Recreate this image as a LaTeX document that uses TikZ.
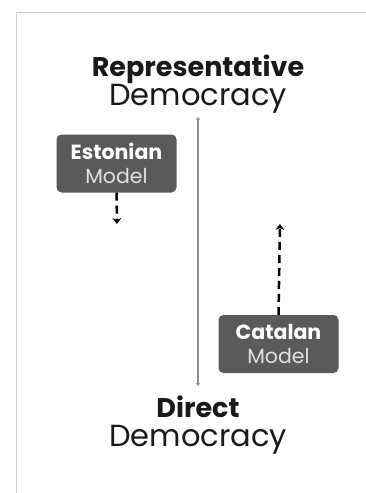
\documentclass[tikz,border=0pt]{standalone}
\usepackage{fontspec}
\setmainfont{Poppins}
\usetikzlibrary{arrows.meta,positioning,calc}
\definecolor{boxgray}{RGB}{90,90,90}
\definecolor{linegray}{RGB}{145,145,145}
\definecolor{framegray}{RGB}{205,205,205}
\newcommand{\bigline}[1]{{\fontsize{30.5}{29}\selectfont #1}}

\begin{document}
\begin{tikzpicture}[x=1pt,y=-1pt,
  title/.style={align=center,text=black!90,font=\fontsize{27}{29}\selectfont},
  model/.style={fill=boxgray,rounded corners=5pt,text=white,align=center,
    minimum width=120pt,minimum height=58pt,inner sep=0pt,
    font=\fontsize{20.5}{24}\selectfont},
  shiftarrow/.style={line width=2.5pt,dash pattern=on 8pt off 5pt,
    -{Stealth[length=6pt,width=9pt,inset=2pt]}},
  axis/.style={linegray,line width=2pt,{Stealth[length=3pt,width=4pt]}-{Stealth[length=3pt,width=4pt]}}
]
\useasboundingbox (0,0) rectangle (366,493);
% frame
\draw[framegray,line width=1pt] (16,493) -- (16,12) -- (366,12);

% ends of the scale
\node[title] (rep) at (198,84) {\textbf{Representative}\\\bigline{Democracy}};
\node[title] (dir) at (198,425) {\textbf{Direct}\\\bigline{Democracy}};
\coordinate (top) at (198,117);
\coordinate (bot) at (198,386);
\draw[axis] (top) -- (bot);

% models
\node[model] (est) at (116.5,163.5) {\textbf{Estonian}\\{\color{white!88!black}Model}};
\node[model] (cat) at (278.5,344) {\textbf{Catalan}\\{\color{white!88!black}Model}};
\coordinate (estend) at (117,224);
\coordinate (catend) at (280,224);
\draw[shiftarrow] (est.south) -- (estend);
\draw[shiftarrow] (cat.north) -- (catend);
\end{tikzpicture}
\end{document}
